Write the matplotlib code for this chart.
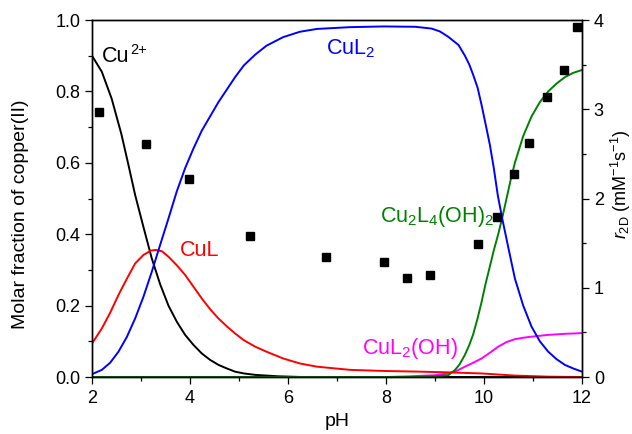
import matplotlib
matplotlib.use("Agg")
import matplotlib.pyplot as plt
from matplotlib.ticker import MultipleLocator, FormatStrFormatter

plt.rcParams['font.family'] = ['Liberation Sans', 'DejaVu Sans']
plt.rcParams['mathtext.fontset'] = 'custom'
plt.rcParams['mathtext.rm'] = 'Liberation Sans'
plt.rcParams['mathtext.it'] = 'Liberation Sans:italic'

# species distribution curves
cu_ph = [2.0, 2.2, 2.4, 2.6, 2.75, 2.88, 3.05, 3.22, 3.39, 3.56, 3.73, 3.9, 4.07, 4.24, 4.41, 4.58,
         4.75, 4.92, 5.1, 5.33, 5.8, 6.3, 7.0, 8.0, 9.0, 10.0, 11.0, 12.0]
cu_frac = [0.90, 0.855, 0.78, 0.68, 0.59, 0.51, 0.42, 0.332, 0.26, 0.20, 0.155, 0.118, 0.09, 0.066, 0.048, 0.034,
           0.024, 0.015, 0.010, 0.006, 0.002, 0.0, 0.0, 0.0, 0.0, 0.0, 0.0, 0.0]

cul_ph = [2.0, 2.2, 2.37, 2.54, 2.71, 2.88, 3.05, 3.2, 3.3, 3.43, 3.56, 3.73, 3.9, 4.07, 4.24, 4.41, 4.58,
          4.75, 4.92, 5.1, 5.33, 5.56, 5.9, 6.24, 6.59, 7.27, 7.95, 8.69, 9.27, 9.95, 10.63, 11.31, 12.0]
cul_frac = [0.094, 0.136, 0.18, 0.23, 0.275, 0.318, 0.342, 0.354, 0.356, 0.352, 0.337, 0.313, 0.286, 0.253, 0.22,
            0.19, 0.164, 0.142, 0.122, 0.103, 0.085, 0.071, 0.052, 0.038, 0.029, 0.02, 0.017, 0.015, 0.013, 0.010,
            0.004, 0.001, 0.0]

cul2_ph = [2.0, 2.2, 2.37, 2.54, 2.71, 2.88, 3.05, 3.22, 3.39, 3.56, 3.73, 3.9, 4.07, 4.24, 4.41, 4.58, 4.75,
           4.92, 5.1, 5.33, 5.56, 5.9, 6.24, 6.59, 7.27, 7.95, 8.6, 8.93, 9.1, 9.27, 9.48, 9.61, 9.7, 9.78, 9.87,
           9.95, 10.03, 10.12, 10.2, 10.28, 10.37, 10.5, 10.63, 10.8, 10.97, 11.14, 11.31, 11.48, 11.65, 11.82, 12.0]
cul2_frac = [0.008, 0.02, 0.04, 0.071, 0.112, 0.164, 0.225, 0.295, 0.37, 0.444, 0.52, 0.585, 0.64, 0.69, 0.73,
             0.77, 0.805, 0.84, 0.873, 0.903, 0.928, 0.952, 0.967, 0.975, 0.98, 0.982, 0.981, 0.976, 0.968, 0.953,
             0.93, 0.90, 0.875, 0.846, 0.81, 0.762, 0.71, 0.65, 0.585, 0.51, 0.445, 0.36, 0.276, 0.20, 0.141, 0.10,
             0.071, 0.05, 0.034, 0.024, 0.015]

cul2oh_ph = [2.0, 8.0, 8.5, 9.0, 9.27, 9.45, 9.61, 9.78, 9.95, 10.12, 10.29, 10.46, 10.63, 10.8, 10.97, 11.31,
             11.65, 12.0]
cul2oh_frac = [0.0, 0.0, 0.002, 0.005, 0.01, 0.018, 0.029, 0.04, 0.052, 0.068, 0.085, 0.098, 0.106, 0.11, 0.113,
               0.118, 0.121, 0.123]

cu2l4_ph = [2.0, 8.5, 9.0, 9.27, 9.41, 9.5, 9.61, 9.7, 9.78, 9.87, 9.95, 10.03, 10.12, 10.2, 10.29, 10.37, 10.46,
            10.54, 10.63, 10.8, 10.97, 11.14, 11.31, 11.48, 11.65, 11.82, 12.0]
cu2l4_frac = [0.0, 0.0, 0.002, 0.005, 0.02, 0.035, 0.062, 0.09, 0.12, 0.165, 0.21, 0.26, 0.31, 0.355, 0.40, 0.445,
              0.50, 0.55, 0.60, 0.675, 0.73, 0.77, 0.80, 0.822, 0.84, 0.852, 0.86]

# r2D measurements (right axis)
r_ph = [2.14, 3.10, 3.97, 5.22, 6.78, 7.96, 8.43, 8.90, 9.87, 10.27, 10.61, 10.92, 11.29, 11.63, 11.9]
r_val = [2.97, 2.61, 2.22, 1.58, 1.345, 1.29, 1.105, 1.145, 1.49, 1.79, 2.27, 2.62, 3.14, 3.44, 3.925]

fig = plt.figure(figsize=(6.32, 4.34), dpi=100)
ax = fig.add_axes([0.1456, 0.1313, 0.7753, 0.8226])
ax2 = ax.twinx()

lw = 1.4
ax.plot(cu_ph, cu_frac, color='black', lw=lw)
ax.plot(cul2oh_ph, cul2oh_frac, color='#ff00ff', lw=lw)
ax.plot(cu2l4_ph, cu2l4_frac, color='#008000', lw=lw)
ax.plot(cul_ph, cul_frac, color='#ff0000', lw=lw)
ax.plot(cul2_ph, cul2_frac, color='#0000ff', lw=lw)

ax2.plot(r_ph, r_val, 's', color='black', ms=5.8, ls='none')

ax.set_xlim(2, 12)
ax.set_ylim(0, 1.0)
ax2.set_ylim(0, 4)

ax.xaxis.set_major_locator(MultipleLocator(2))
ax.xaxis.set_minor_locator(MultipleLocator(1))
ax.yaxis.set_major_locator(MultipleLocator(0.2))
ax.yaxis.set_minor_locator(MultipleLocator(0.1))
ax2.yaxis.set_major_locator(MultipleLocator(1))
ax2.yaxis.set_minor_locator(MultipleLocator(0.5))
ax.yaxis.set_major_formatter(FormatStrFormatter('%.1f'))

for a in (ax, ax2):
    a.tick_params(which='major', direction='out', length=5, width=0.9, labelsize=13)
    a.tick_params(which='minor', direction='out', length=2.8, width=0.9)
    for s in a.spines.values():
        s.set_linewidth(1.0)
ax.tick_params(axis='x', pad=4)

ax.set_xlabel('pH', fontsize=14, labelpad=5)
ax.set_ylabel('Molar fraction of copper(II)', fontsize=14)
ax.yaxis.set_label_coords(-0.128, 0.455)
ax2.set_ylabel(r'$r_{\mathrm{2D}}$ (mM$^{-1}$s$^{-1}$)', fontsize=13)
ax2.yaxis.set_label_coords(1.054, 0.54)

# species labels
cu_txt = ax.text(2.2, 0.883, 'Cu', color='black', fontsize=15.5)
fig.canvas.draw()
bb = cu_txt.get_window_extent()
x_end = ax.transData.inverted().transform((bb.x1, bb.y1))[0]
ax.text(x_end + 0.02, 0.905, '2+', color='black', fontsize=10.5)
ax.text(6.78, 0.905, 'CuL$_2$', color='#0000ff', fontsize=15.5)
ax.text(3.8, 0.338, 'CuL', color='#ff0000', fontsize=15.5)
ax.text(7.88, 0.434, 'Cu$_2$L$_4$(OH)$_2$', color='#008000', fontsize=15.5)
ax.text(7.5, 0.064, 'CuL$_2$(OH)', color='#ff00ff', fontsize=15.5)

fig.savefig('out.png', dpi=100)
